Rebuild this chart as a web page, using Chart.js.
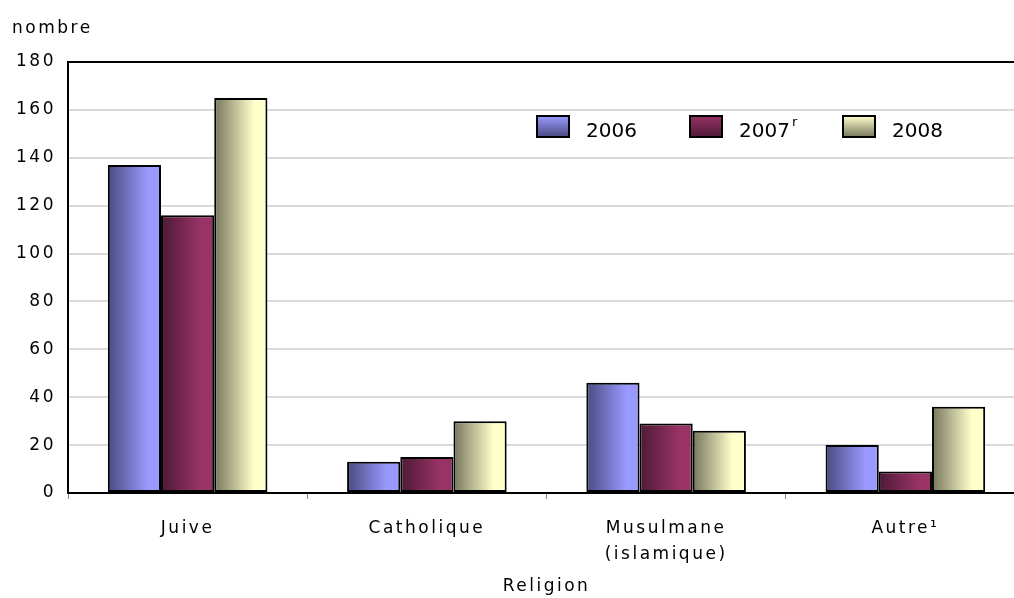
<!DOCTYPE html>
<html><head><meta charset="utf-8">
<script src="https://cdn.jsdelivr.net/npm/chart.js@4.4.1/dist/chart.umd.min.js"></script>
<style>html,body{margin:0;padding:0;background:#fff;overflow:hidden}canvas{display:block}</style>
</head><body>
<canvas id="c" width="1030" height="598"></canvas>
<script>
const categories = ["Juive", "Catholique", ["Musulmane", "(islamique)"], "Autre¹"];
const years = ["2006", "2007", "2008"];
const yearSup = ["", "r", ""];
const v2006 = [137, 13, 46, 20];
const v2007 = [116, 15, 29, 9];
const v2008 = [165, 30, 26, 36];
const yMin = 0, yMax = 180, yStep = 20;

const dark = ["#4a4a80", "#4d1a36", "#76765c"];
const light = ["#9999ff", "#993366", "#ffffcc"];
const FONT = "DejaVu Sans";
const SP = "2.5px";

// horizontal gradient on every bar, built from the bar's own geometry
const barGrad = {
  id: "barGrad",
  beforeDatasetsDraw(chart) {
    const ctx = chart.ctx;
    chart.data.datasets.forEach((ds, i) => {
      chart.getDatasetMeta(i).data.forEach(el => {
        const l = el.x - el.width / 2;
        const g = ctx.createLinearGradient(l, 0, l + el.width, 0);
        g.addColorStop(0, dark[i]); g.addColorStop(0.75, light[i]); g.addColorStop(1, light[i]);
        el.options.backgroundColor = g;
      });
    });
  }
};

const spacing = {
  id: "spacing",
  beforeLayout(chart) { chart.ctx.letterSpacing = SP; },
  beforeDraw(chart) { chart.ctx.letterSpacing = SP; }
};

// "nombre" + legend inside the plot
const extras = {
  id: "extras",
  afterDraw(chart) {
    const ctx = chart.ctx;
    ctx.save();
    ctx.fillStyle = "#000";
    ctx.font = `17px "${FONT}"`;
    ctx.letterSpacing = SP;
    ctx.textBaseline = "alphabetic"; ctx.textAlign = "left";
    ctx.fillText("nombre", 12, 33);
    ctx.letterSpacing = "0px";
    let x = 537; const y = 116;
    years.forEach((yr, i) => {
      const g = ctx.createLinearGradient(0, y, 0, y + 21);
      g.addColorStop(0, light[i]); g.addColorStop(1, dark[i]);
      ctx.fillStyle = g; ctx.fillRect(x, y, 32, 21);
      ctx.lineWidth = 2; ctx.strokeStyle = "#000"; ctx.strokeRect(x, y, 32, 21);
      ctx.fillStyle = "#000";
      ctx.font = `20px "${FONT}"`; ctx.textBaseline = "alphabetic";
      ctx.fillText(yr, x + 49, y + 21);
      if (yearSup[i]) {
        const w = ctx.measureText(yr).width;
        ctx.font = `13px "${FONT}"`;
        ctx.fillText(yearSup[i], x + 49 + w + 2, y + 10);
      }
      x += 153;
    });
    ctx.restore();
  }
};

new Chart(document.getElementById("c"), {
  type: "bar",
  data: {
    labels: categories,
    datasets: [
      {label: years[0], data: v2006},
      {label: years[1], data: v2007},
      {label: years[2], data: v2008}
    ].map(d => Object.assign(d, {
      backgroundColor: () => "#999", borderColor: "#000", borderWidth: 2, borderSkipped: false,
      categoryPercentage: 0.667, barPercentage: 1
    }))
  },
  options: {
    responsive: false, animation: false, devicePixelRatio: 1,
    layout: {padding: {top: 62, left: 0, right: 5, bottom: 0}},
    plugins: {legend: {display: false}, tooltip: {enabled: false}},
    scales: {
      y: {
        min: yMin, max: yMax,
        ticks: {stepSize: yStep, padding: 12, color: "#000", font: {family: FONT, size: 17}},
        grid: {drawTicks: false, lineWidth: 2, color: c => c.tick && c.tick.value === yMax ? "#000" : "#dadada"},
        border: {color: "#000", width: 2},
        afterFit: s => { s.width = 68; }
      },
      x: {
        ticks: {padding: 16, color: "#000", font: {family: FONT, size: 17, lineHeight: 1.55}},
        grid: {drawOnChartArea: false, offset: true, tickLength: 6, color: "#888", lineWidth: 1},
        border: {color: "#000", width: 2},
        title: {display: true, text: "Religion", color: "#000", font: {family: FONT, size: 17}, padding: {top: 0, bottom: 1}},
        afterFit: s => { s.height = 105; }
      }
    }
  },
  plugins: [spacing, barGrad, extras]
});
</script>
</body></html>
